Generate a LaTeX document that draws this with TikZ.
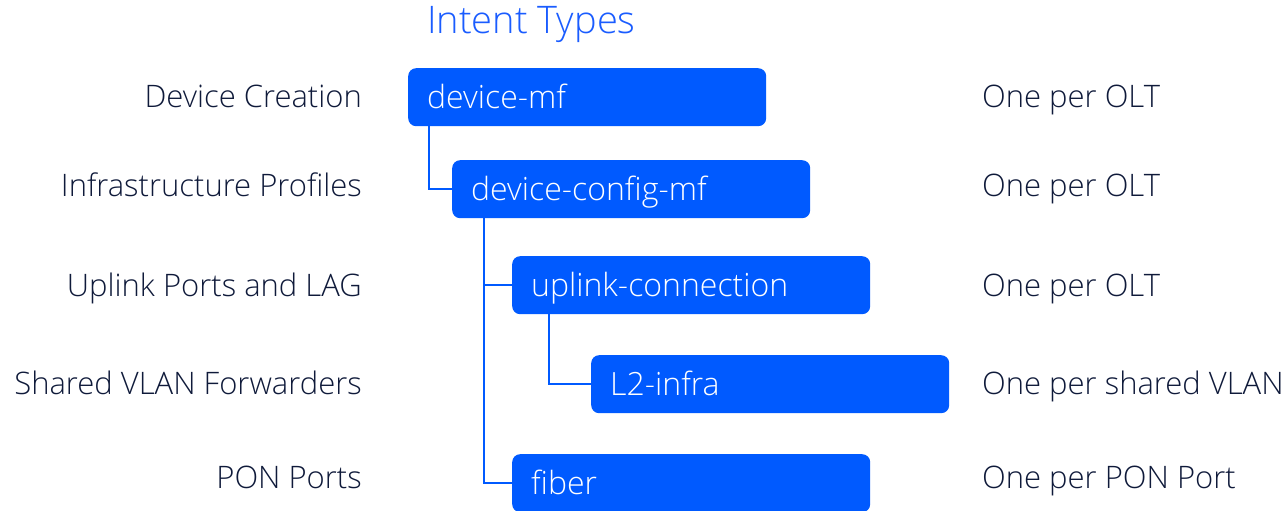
\documentclass[tikz,border=0pt]{standalone}
\usepackage{fontspec}
\setmainfont{Open Sans}[UprightFont={* Light}]
\usetikzlibrary{calc}
\definecolor{nblue}{HTML}{005AFF}
\definecolor{ntitle}{HTML}{1A5CFF}
\definecolor{ndark}{HTML}{0F1A3A}
\tikzset{
  intent/.style={draw=none, fill=nblue, rounded corners=8pt, anchor=north west,
    text width=320pt, inner xsep=19pt, inner ysep=0pt, align=left,
    minimum height=58pt, text height=26pt, text depth=4pt, text=white,
    font=\fontsize{32}{37}\selectfont},
  lefttxt/.style={anchor=base east, inner sep=0pt, text=ndark, font=\fontsize{31}{37}\selectfont},
  righttxt/.style={anchor=base west, inner sep=0pt, text=ndark, font=\fontsize{31}{37}\selectfont},
  link/.style={draw=nblue, line width=1.5pt}
}
\begin{document}
\begin{tikzpicture}[x=1pt, y=-1pt]
\useasboundingbox (0,0) rectangle (1286,511);

\node[anchor=base west, inner sep=0pt, text=ntitle, font=\fontsize{38}{44}\selectfont] (title) at (427,34) {Intent Types};

% intent boxes
\node[intent] (dmf) at (408,68) {device-mf};
\node[intent] (dcm) at (452,160) {device-config-mf};
\node[intent] (upl) at (512,256) {uplink-connection};
\node[intent] (l2)  at (591,355) {L2-infra};
\node[intent] (fib) at (512,454) {fiber};

% tree connectors
\draw[link] ($(dmf.south west)+(21,0)$) |- (dcm.west);
\draw[link] ($(dcm.south west)+(32,0)$) |- (upl.west);
\draw[link] ($(dcm.south west)+(32,0)$) |- (fib.west);
\draw[link] ($(upl.south west)+(37,0)$) |- (l2.west);

% descriptions
\node[lefttxt] (c1) at (362,107) {Device Creation};
\node[lefttxt] (c2) at (362,196) {Infrastructure Profiles};
\node[lefttxt] (c3) at (362,296) {Uplink Ports and LAG};
\node[lefttxt] (c4) at (362,394) {Shared VLAN Forwarders};
\node[lefttxt] (c5) at (362,488) {PON Ports};

% cardinality
\node[righttxt] (r1) at (982,107) {One per OLT};
\node[righttxt] (r2) at (982,196) {One per OLT};
\node[righttxt] (r3) at (982,296) {One per OLT};
\node[righttxt] (r4) at (982,394) {One per shared VLAN};
\node[righttxt] (r5) at (982,488) {One per PON Port};
\end{tikzpicture}
\end{document}
